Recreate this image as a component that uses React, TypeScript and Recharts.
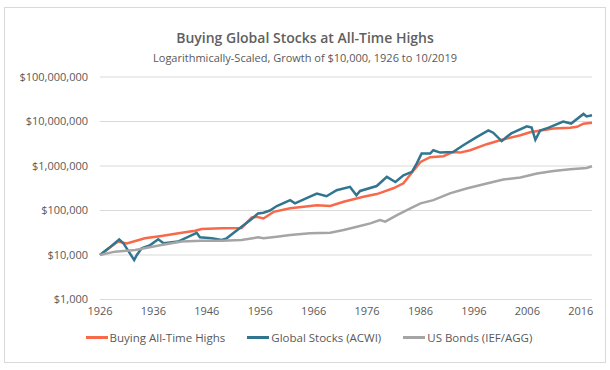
import { LineChart, Line, XAxis, YAxis, CartesianGrid } from 'recharts';

// Values (log scale), growth of $10,000
const athYears = [1926, 1927.6, 1929.4, 1931, 1934.4, 1937.5, 1940.7, 1943.8, 1945, 1948.8, 1952.5, 1954.4, 1955.3, 1956.6, 1958.5, 1961.6, 1966.6, 1969.1, 1971.6, 1975.3, 1977.8, 1979, 1980.9, 1982.8, 1984.7, 1986, 1987.8, 1990.3, 1992.1, 1993.4, 1995.3, 1998.4, 2000.9, 2004.7, 2006.5, 2010.9, 2014, 2015.3, 2016.5, 2018.1];
const athValues = [10000, 14000, 20000, 18200, 23700, 26700, 30700, 35100, 38300, 39800, 40500, 70000, 72000, 66000, 93000, 112000, 132000, 126000, 157000, 204000, 234000, 263000, 316000, 407000, 794000, 1230000, 1580000, 1660000, 2070000, 2000000, 2260000, 3090000, 3800000, 4900000, 5750000, 6920000, 7240000, 7600000, 8910000, 9330000];

const acwiYears = [1926, 1927.6, 1929.6, 1930.4, 1932.4, 1932.9, 1933.8, 1935.4, 1936.9, 1937.9, 1940.6, 1943.2, 1944.1, 1944.7, 1946.9, 1948.8, 1949.7, 1952.5, 1954.1, 1955.6, 1956.6, 1957.8, 1959.1, 1961.6, 1962.5, 1965.3, 1966.6, 1968.4, 1970.3, 1972.8, 1974, 1974.7, 1977.8, 1979.7, 1981.3, 1982.8, 1984.4, 1985.3, 1986.2, 1987.8, 1988.4, 1989.7, 1992.1, 1994, 1996.5, 1998.7, 1999.6, 2001.2, 2002.1, 2003, 2005.9, 2006.8, 2007.5, 2008.4, 2010, 2012.7, 2014.2, 2016.5, 2017.1, 2018.1];
const acwiValues = [10000, 14100, 22500, 18200, 7700, 10000, 14100, 16700, 22500, 18300, 20000, 28000, 31600, 25000, 23700, 21700, 23700, 43000, 60000, 86000, 89000, 100000, 126000, 171000, 145000, 204000, 240000, 209000, 286000, 339000, 221000, 275000, 355000, 569000, 437000, 617000, 741000, 1150000, 1900000, 1900000, 2260000, 2000000, 2070000, 2920000, 4470000, 6300000, 5600000, 3630000, 4470000, 5400000, 7760000, 7300000, 3890000, 6300000, 7300000, 10000000, 9000000, 14800000, 13000000, 13800000];

const bondYears = [1926, 1928.8, 1932.6, 1937.5, 1941.3, 1945, 1948.8, 1952.5, 1955.6, 1956.6, 1959.1, 1961.6, 1965.3, 1969.1, 1971.6, 1974.1, 1976.6, 1978.4, 1979.4, 1981.6, 1984.1, 1986, 1988.4, 1991.5, 1994.6, 1998.4, 2001.5, 2004.7, 2007.8, 2010.9, 2014, 2017.1, 2018.1];
const bondValues = [10000, 11900, 12900, 16700, 20000, 20900, 20900, 21700, 25000, 23700, 25700, 28100, 30700, 31600, 36300, 43200, 51300, 61000, 56000, 78900, 111000, 145000, 171000, 242000, 313000, 405000, 498000, 552000, 676000, 776000, 847000, 906000, 990000];

const xTicks = [1926, 1936, 1946, 1956, 1966, 1976, 1986, 1996, 2006, 2016];
const yTicks = [1000, 10000, 100000, 1000000, 10000000, 100000000];

const series = [
  { name: 'Buying All-Time Highs', color: '#F8694A', years: athYears, values: athValues },
  { name: 'Global Stocks (ACWI)', color: '#31758F', years: acwiYears, values: acwiValues },
  { name: 'US Bonds (IEF/AGG)', color: '#A5A5A5', years: bondYears, values: bondValues },
];

const toRows = (years: number[], values: number[]) => years.map((year, i) => ({ year, value: values[i] }));

const font = '"Open Sans", "Noto Sans", sans-serif';
const textColor = '#595959';

export default function App() {
  return (
    <div style={{ position: 'absolute', left: 0, top: 0, width: 610, height: 370, background: '#fff', fontFamily: font }}>
      <div style={{ position: 'absolute', left: 4, top: 7, width: 600, height: 354, border: '1px solid #d9d9d9' }} />
      <div style={{ position: 'absolute', left: 0, top: 28, width: 610, textAlign: 'center', fontSize: 14, fontWeight: 600, color: '#606060' }}>
        Buying Global Stocks at All-Time Highs
      </div>
      <div style={{ position: 'absolute', left: 0, top: 50, width: 610, textAlign: 'center', fontSize: 11, color: textColor }}>
        Logarithmically-Scaled, Growth of $10,000, 1926 to 10/2019
      </div>
      <div style={{ position: 'absolute', left: 0, top: 0 }}>
        <LineChart width={610} height={370} margin={{ top: 77, right: 18, bottom: 40.5, left: 0 }}>
          <CartesianGrid vertical={false} stroke="#d9d9d9" />
          <XAxis
            dataKey="year"
            type="number"
            domain={[1926, 2018.1]}
            ticks={xTicks}
            allowDuplicatedCategory={false}
            axisLine={false}
            tickLine={false}
            tick={{ fill: textColor, fontSize: 11, fontFamily: font }}
          />
          <YAxis
            scale="log"
            domain={[1000, 100000000]}
            ticks={yTicks}
            width={100}
            axisLine={false}
            tickLine={false}
            tickMargin={6}
            tick={{ fill: textColor, fontSize: 11, fontFamily: font }}
            tickFormatter={(v: number) => `$${v.toLocaleString('en-US')}`}
          />
          {series.map((s) => (
            <Line
              key={s.name}
              data={toRows(s.years, s.values)}
              dataKey="value"
              name={s.name}
              stroke={s.color}
              strokeWidth={2.5}
              dot={false}
              type="linear"
              isAnimationActive={false}
            />
          ))}
        </LineChart>
      </div>
      <div style={{ position: 'absolute', left: 0, top: 330, width: 610, paddingLeft: 8, boxSizing: 'border-box', display: 'flex', justifyContent: 'center', gap: 22, fontSize: 11.5, color: textColor }}>
        {series.map((s) => (
          <div key={s.name} style={{ display: 'flex', alignItems: 'center' }}>
            <span style={{ display: 'inline-block', width: 22, height: 3, background: s.color, marginRight: 2 }} />
            <span>{s.name}</span>
          </div>
        ))}
      </div>
    </div>
  );
}
